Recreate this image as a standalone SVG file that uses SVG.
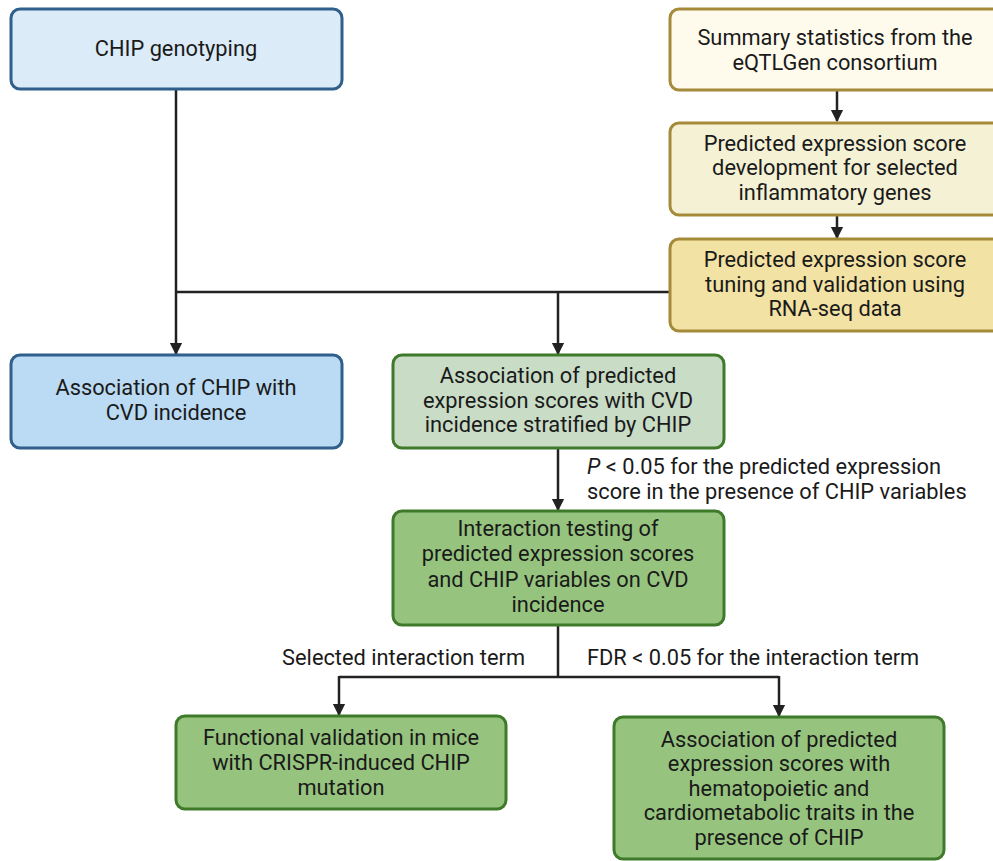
<svg xmlns="http://www.w3.org/2000/svg" width="993" height="861" viewBox="0 0 993 861">
<style>
.box{stroke-width:3}
.blue{stroke:#2f5f8a}
.gold{stroke:#a58a3a}
.green{stroke:#3f7a2a}
text{font-family:Roboto,"Liberation Sans",sans-serif;font-size:21.8px;fill:#1a1a1a}
.c{text-anchor:middle}
.conn{stroke:#222;stroke-width:2.5;fill:none}
</style>
<defs>
<marker id="ah" viewBox="0 0 10 10" refX="9" refY="5" markerWidth="5" markerHeight="5.5" markerUnits="strokeWidth" orient="auto">
<path d="M0,0 L10,5 L0,10 z" fill="#222"/>
</marker>
</defs>
<rect width="993" height="861" fill="#ffffff"/>
<g id="connectors">
<path class="conn" d="M176,89 V354" marker-end="url(#ah)"/>
<path class="conn" d="M177,292 H669"/>
<path class="conn" d="M558,293 V354" marker-end="url(#ah)"/>
<path class="conn" d="M837,91 V121" marker-end="url(#ah)"/>
<path class="conn" d="M837,216 V238" marker-end="url(#ah)"/>
<path class="conn" d="M558,449 V510" marker-end="url(#ah)"/>
<path class="conn" d="M558,626 V677"/>
<path class="conn" d="M339,677 H779"/>
<path class="conn" d="M339,676 V715" marker-end="url(#ah)"/>
<path class="conn" d="M779,676 V716" marker-end="url(#ah)"/>
<text x="587" y="474"><tspan font-style="italic">P</tspan> &lt; 0.05 for the predicted expression</text>
<text x="587" y="499">score in the presence of CHIP variables</text>
<text x="525" y="665" text-anchor="end">Selected interaction term</text>
<text x="587" y="665">FDR &lt; 0.05 for the interaction term</text>
</g>
<g id="chip-genotyping">
<rect class="box blue" x="11" y="9" width="331" height="80" rx="9" fill="#dcebf8"/>
<text class="c" x="176" y="56">CHIP genotyping</text>
</g>
<g id="summary-statistics">
<rect class="box gold" x="670" y="9" width="340" height="81" rx="9" fill="#fefaec"/>
<text class="c" x="835" y="45">Summary statistics from the</text>
<text class="c" x="835" y="70">eQTLGen consortium</text>
</g>
<g id="score-development">
<rect class="box gold" x="670" y="123" width="340" height="92" rx="9" fill="#f4f1d5"/>
<text class="c" x="835" y="151">Predicted expression score</text>
<text class="c" x="835" y="175">development for selected</text>
<text class="c" x="835" y="200">inflammatory genes</text>
</g>
<g id="score-tuning">
<rect class="box gold" x="670" y="239" width="340" height="92" rx="9" fill="#f2e2a3"/>
<text class="c" x="835" y="267">Predicted expression score</text>
<text class="c" x="835" y="292">tuning and validation using</text>
<text class="c" x="835" y="316">RNA-seq data</text>
</g>
<g id="chip-cvd">
<rect class="box blue" x="11" y="355" width="331" height="93" rx="9" fill="#badbf3"/>
<text class="c" x="176" y="395">Association of CHIP with</text>
<text class="c" x="176" y="420">CVD incidence</text>
</g>
<g id="scores-cvd">
<rect class="box green" x="393" y="355" width="331" height="93" rx="9" fill="#c9dcc6"/>
<text class="c" x="558" y="383">Association of predicted</text>
<text class="c" x="558" y="408">expression scores with CVD</text>
<text class="c" x="558" y="432">incidence stratified by CHIP</text>
</g>
<g id="interaction-testing">
<rect class="box green" x="393" y="511" width="331" height="114" rx="9" fill="#96c47e"/>
<text class="c" x="558" y="536">Interaction testing of</text>
<text class="c" x="558" y="561">predicted expression scores</text>
<text class="c" x="558" y="587">and CHIP variables on CVD</text>
<text class="c" x="558" y="612">incidence</text>
</g>
<g id="functional-validation">
<rect class="box green" x="176" y="716" width="330" height="93" rx="9" fill="#96c47e"/>
<text class="c" x="341" y="745">Functional validation in mice</text>
<text class="c" x="341" y="770">with CRISPR-induced CHIP</text>
<text class="c" x="341" y="795">mutation</text>
</g>
<g id="traits-association">
<rect class="box green" x="614" y="717" width="330" height="142" rx="9" fill="#96c47e"/>
<text class="c" x="779" y="747">Association of predicted</text>
<text class="c" x="779" y="771">expression scores with</text>
<text class="c" x="779" y="796">hematopoietic and</text>
<text class="c" x="779" y="820">cardiometabolic traits in the</text>
<text class="c" x="779" y="845">presence of CHIP</text>
</g>
</svg>
